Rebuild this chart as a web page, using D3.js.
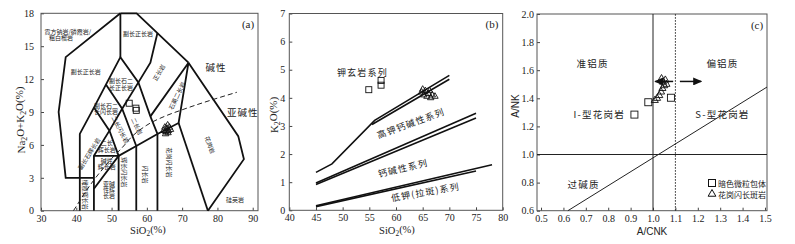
<!DOCTYPE html>
<html>
<head>
<meta charset="utf-8">
<script src="https://cdn.jsdelivr.net/npm/d3@7"></script>
<style>
  body { margin: 0; background: #fff; }
  svg text { font-family: "Liberation Serif", "Times New Roman", serif; fill: #222; }
  svg text.cn { font-family: "Noto Sans CJK SC", sans-serif; }
  svg text.sans { font-family: "Liberation Sans", Arial, sans-serif; }
</style>
</head>
<body>
<div id="chart"></div>
<script>
// ---------- (a) TAS (Middlemost 1994) ----------
const tasXTicks = [30, 40, 50, 60, 70, 80, 90];
const tasYTicks = [0, 3, 6, 9, 12, 15, 18];
const tasLines = [
  [[52.5, 18], [37, 14], [35, 9], [37, 3], [45, 3]],
  [[52.5, 18], [57.1, 18], [63, 16.2], [71.8, 13.5]],
  [[52.5, 18], [52.5, 14]],
  [[41, 0], [41, 7], [45, 9.4], [48.4, 11.5], [52.5, 14], [57.6, 11.7], [61, 8.6], [63, 7]],
  [[45, 0], [45, 5], [49.4, 7.3], [53, 9.3], [57.6, 11.7], [61, 13.5], [63, 16.2]],
  [[52, 5], [57, 5.9], [63, 7], [69, 8], [71.8, 13.5], [61, 8.6]],
  [[45, 2], [52, 5], [45, 5]],
  [[52, 0], [52, 5]],
  [[57, 0], [57, 5.9]],
  [[63, 0], [63, 7]],
  [[45, 9.4], [49.4, 7.3], [52, 5]],
  [[48.4, 11.5], [53, 9.3], [57, 5.9]],
  [[69, 8], [77.3, 0]],
  [[77.3, 0], [87.5, 4.7], [85.9, 6.8], [71.8, 13.5]]
];
const tasAlkalineLine = [[39.2, 0], [40, 0.4], [43.2, 2], [45, 2.8], [48, 4], [50, 4.75], [53.7, 6],
  [55, 6.5], [60, 7.8], [65, 8.6], [70, 9.2], [85.5, 10.8]];
const tasSquares = [[55.0, 9.8], [56.9, 9.35], [57.0, 9.15]];
const tasTriangles = [[64.8, 7.3], [65.1, 7.6], [65.4, 7.2], [65.7, 7.5], [65.9, 7.8], [66.1, 7.3],
  [66.4, 7.6], [66.7, 7.4], [65.3, 7.0], [66.0, 7.1]];
const tasFieldLabels = [
  ['霓方钠岩/磷霞岩/', 37.6, 16.3, 0],
  ['粗白榴岩', 35.7, 15.75, 0],
  ['副长正长岩', 42.7, 12.7, 0],
  ['副长正长岩', 57.5, 16.2, 0],
  ['副长石二', 52.7, 11.85, 0],
  ['长正长岩', 52.7, 11.25, 0],
  ['副长石二', 48.4, 9.6, 0],
  ['长闪长岩', 48.4, 9.05, 0],
  ['副长石辉长岩', 43.6, 5.2, -58],
  ['橄榄辉长岩', 42.7, 1.45, 90],
  ['二长', 48.6, 6.2, 0],
  ['辉长岩', 48.6, 5.6, 0],
  ['碱性', 48.6, 4.55, 0],
  ['辉长岩', 48.6, 4.0, 0],
  ['亚碱', 49.3, 2.45, 0],
  ['性辉', 49.3, 1.9, 0],
  ['长岩', 49.3, 1.35, 0],
  ['辉长闪长岩', 53.8, 3.5, 90],
  ['闪长岩', 59.7, 3.3, 90],
  ['花岗闪长岩', 66.5, 4.4, 90],
  ['花岗岩', 77.9, 6.0, 70],
  ['硅英岩', 85, 1.0, 0],
  ['正长岩', 63.4, 12.6, -60],
  ['石英二长岩', 68.5, 10.5, -65],
  ['二长岩', 57.2, 7.7, 65],
  ['二长闪长岩', 52.5, 7.4, 62]
];
const tasSeriesLabels = [['碱性', 79.6, 13.1], ['亚碱性', 87.2, 9.0]];

// ---------- (b) K2O–SiO2 ----------
const kXTicks = [40, 45, 50, 55, 60, 65, 70, 75, 80];
const kYTicks = [0, 1, 2, 3, 4, 5, 6, 7];
const kLines = [
  [[45, 1.35], [48, 1.65], [56, 3.2], [70, 4.8]],
  [[55.5, 3.05], [70, 4.66]],
  [[45, 0.97], [75, 3.45]],
  [[45, 0.92], [75, 3.28]],
  [[45, 0.16], [78, 1.62]],
  [[45, 0.13], [75, 1.4]]
];
const kSquares = [[54.9, 4.29], [57.2, 4.62], [57.2, 4.45]];
const kTriangles = [[64.8, 4.2], [65.2, 4.1], [65.5, 4.25], [65.8, 4.05], [66.1, 4.15], [66.5, 4.0],
  [66.8, 4.1], [65.0, 4.3], [66.3, 4.25], [67.3, 4.05]];
const kSeriesLabels = [
  ['钾玄岩系列', 53.7, 4.9, 0],
  ['高钾钙碱性系列', 62.8, 3.1, -20],
  ['钙碱性系列', 61.3, 1.5, -13],
  ['低钾(拉斑)系列', 65.5, 0.65, -10]
];

// ---------- (c) A/NK–A/CNK ----------
const acXTicks = [0.5, 0.6, 0.7, 0.8, 0.9, 1.0, 1.1, 1.2, 1.3, 1.4, 1.5];
const acYTicks = [0.6, 0.8, 1.0, 1.2, 1.4, 1.6, 1.8, 2.0];
const acSolidLines = [
  [[1.0, 0.6], [1.0, 2.0]],
  [[0.482, 1.0], [1.509, 1.0]],
  [[0.62, 0.6], [1.509, 1.48]]
];
const acDottedLine = [[1.1, 0.6], [1.1, 2.0]];
const acArrows = [[[1.12, 1.52], [1.215, 1.52]], [[1.09, 1.52], [1.01, 1.52]]];
const acSquares = [[0.917, 1.284], [0.979, 1.372], [1.08, 1.404]];
const acTriangles = [[1.008, 1.385], [1.018, 1.40], [1.028, 1.42], [1.036, 1.445], [1.042, 1.47],
  [1.05, 1.49], [1.045, 1.515], [1.055, 1.53], [1.038, 1.54], [1.06, 1.50]];
const acFieldLabels = [
  ['准铝质', 0.73, 1.65], ['偏铝质', 1.31, 1.65],
  ['I-型花岗岩', 0.76, 1.29], ['S-型花岗岩', 1.31, 1.29],
  ['过碱质', 0.69, 0.79]
];
const legendItems = ['暗色微粒包体', '花岗闪长斑岩'];

// ---------- drawing ----------
const svg = d3.select('#chart').append('svg').attr('width', 795).attr('height', 244);

svg.append('defs').append('marker')
  .attr('id', 'arrow')
  .attr('markerUnits', 'userSpaceOnUse')
  .attr('markerWidth', 9).attr('markerHeight', 8)
  .attr('refX', 8).attr('refY', 4)
  .attr('orient', 'auto')
  .append('path').attr('d', 'M0,0L9,4L0,8Z').attr('fill', '#111');

function panel(p) {
  const x = d3.scaleLinear().domain(p.xDomain).range(p.xRange);
  const y = d3.scaleLinear().domain(p.yDomain).range(p.yRange);
  const g = svg.append('g');
  const line = d3.line().x((d) => x(d[0])).y((d) => y(d[1]));

  g.append('g')
    .attr('transform', `translate(0,${p.yRange[0]})`)
    .call(d3.axisBottom(x).tickValues(p.xTicks).tickSize(-3).tickPadding(4).tickFormat(p.xFormat));
  g.append('g')
    .attr('transform', `translate(${p.xRange[0]},0)`)
    .call(d3.axisLeft(y).tickValues(p.yTicks).tickSize(-3).tickPadding(p.yPad).tickFormat(p.yFormat));
  g.selectAll('.domain').remove();
  g.selectAll('.tick line').attr('stroke', '#444');
  g.selectAll('.tick text')
    .attr('font-size', 10)
    .style('font-family', '"Liberation Serif", serif')
    .attr('fill', '#222');

  g.append('rect')
    .attr('x', p.xRange[0]).attr('y', p.yRange[1])
    .attr('width', p.xRange[1] - p.xRange[0])
    .attr('height', p.yRange[0] - p.yRange[1])
    .attr('fill', 'none').attr('stroke', '#555').attr('stroke-width', 1);

  return { g, x, y, line };
}

function squares(P, data, size) {
  P.g.append('g').selectAll('rect').data(data).enter().append('rect')
    .attr('x', (d) => P.x(d[0]) - size / 2)
    .attr('y', (d) => P.y(d[1]) - size / 2)
    .attr('width', size).attr('height', size)
    .attr('fill', 'none').attr('stroke', '#111').attr('stroke-width', 0.9);
}

function triangles(P, data, size) {
  const sym = d3.symbol().type(d3.symbolTriangle).size(size);
  P.g.append('g').selectAll('path').data(data).enter().append('path')
    .attr('d', sym)
    .attr('transform', (d) => `translate(${P.x(d[0])},${P.y(d[1])})`)
    .attr('fill', 'none').attr('stroke', '#111').attr('stroke-width', 0.9);
}

function cnText(P, data, size, spacing) {
  P.g.append('g').selectAll('text').data(data).enter().append('text')
    .attr('class', 'cn')
    .attr('font-size', size)
    .attr('letter-spacing', spacing)
    .attr('text-anchor', 'middle')
    .attr('dominant-baseline', 'central')
    .attr('transform', (d) => `translate(${P.x(d[1])},${P.y(d[2])}) rotate(${d[3] || 0})`)
    .text((d) => d[0]);
}

function subTitle(sel, parts) {
  parts.forEach(([t, sub]) => {
    const s = sel.append('tspan').text(t);
    if (sub) s.attr('font-size', '0.7em').attr('dy', '0.25em');
    else s.attr('dy', sel.selectAll('tspan').size() > 1 ? '-0.25em' : 0);
  });
}

// ----- panel (a)
const A = panel({
  xDomain: [30, 91.5], xRange: [41, 258],
  yDomain: [0, 18], yRange: [210.7, 13.3],
  xTicks: tasXTicks, yTicks: tasYTicks, yPad: 7,
  xFormat: d3.format('d'), yFormat: d3.format('d')
});
A.g.append('g').selectAll('path').data(tasLines).enter().append('path')
  .attr('d', A.line).attr('fill', 'none').attr('stroke', '#111')
  .attr('stroke-width', 1.8).attr('stroke-linejoin', 'miter');
A.g.append('path').datum(tasAlkalineLine)
  .attr('d', A.line.curve(d3.curveMonotoneX)).attr('fill', 'none').attr('stroke', '#222')
  .attr('stroke-width', 1).attr('stroke-dasharray', '5,3');
A.line.curve(d3.curveLinear);
cnText(A, tasFieldLabels, 6, 0);
cnText(A, tasSeriesLabels.map((d) => [d[0], d[1], d[2], 0]), 9.5, 1);
squares(A, tasSquares, 6);
triangles(A, tasTriangles, 18);

svg.append('text').attr('x', 248).attr('y', 28).attr('text-anchor', 'middle').attr('font-size', 11).text('(a)');
subTitle(svg.append('text').attr('text-anchor', 'middle').attr('font-size', 11)
  .attr('transform', 'translate(25,120) rotate(-90)'),
  [['Na'], ['2', true], ['O+K'], ['2', true], ['O(%)']]);
subTitle(svg.append('text').attr('x', 148).attr('y', 234).attr('text-anchor', 'middle').attr('font-size', 10.5),
  [['SiO'], ['2', true], ['(%)']]);

// ----- panel (b)
const B = panel({
  xDomain: [40, 80], xRange: [289.3, 502.7],
  yDomain: [0, 7], yRange: [210.3, 13.5],
  xTicks: kXTicks, yTicks: kYTicks, yPad: 4,
  xFormat: d3.format('d'), yFormat: d3.format('d')
});
B.g.append('g').selectAll('path').data(kLines).enter().append('path')
  .attr('d', B.line).attr('fill', 'none').attr('stroke', '#111').attr('stroke-width', 1.6);
cnText(B, kSeriesLabels, 9, 1.2);
squares(B, kSquares, 6);
triangles(B, kTriangles, 18);

svg.append('text').attr('x', 492).attr('y', 28).attr('text-anchor', 'middle').attr('font-size', 11).text('(b)');
subTitle(svg.append('text').attr('text-anchor', 'middle').attr('font-size', 11)
  .attr('transform', 'translate(278,115) rotate(-90)'),
  [['K'], ['2', true], ['O(%)']]);
subTitle(svg.append('text').attr('x', 397).attr('y', 234).attr('text-anchor', 'middle').attr('font-size', 10.5),
  [['SiO'], ['2', true], ['(%)']]);

// ----- panel (c)
const C = panel({
  xDomain: [0.482, 1.509], xRange: [537, 767],
  yDomain: [0.6, 2.0], yRange: [210.7, 14],
  xTicks: acXTicks, yTicks: acYTicks, yPad: 3,
  xFormat: d3.format('.1f'), yFormat: d3.format('.1f')
});
C.g.append('g').selectAll('path').data(acSolidLines).enter().append('path')
  .attr('d', C.line).attr('fill', 'none').attr('stroke', '#222').attr('stroke-width', 1);
C.g.append('path').datum(acDottedLine)
  .attr('d', C.line).attr('fill', 'none').attr('stroke', '#222')
  .attr('stroke-width', 1).attr('stroke-dasharray', '1.5,1.5');
C.g.append('g').selectAll('path').data(acArrows).enter().append('path')
  .attr('d', C.line).attr('fill', 'none').attr('stroke', '#111').attr('stroke-width', 1.5)
  .attr('marker-end', 'url(#arrow)');
C.g.append('g').selectAll('text').data(acFieldLabels).enter().append('text')
  .attr('class', (d) => 'cn')
  .attr('font-size', 9.5).attr('letter-spacing', 1.2)
  .attr('text-anchor', 'middle').attr('dominant-baseline', 'central')
  .attr('x', (d) => C.x(d[1])).attr('y', (d) => C.y(d[2]))
  .text((d) => d[0]);
squares(C, acSquares, 7);
triangles(C, acTriangles, 22);

// legend
const lg = svg.append('g').attr('transform', 'translate(712,183)');
legendItems.forEach((t, i) => {
  const row = lg.append('g').attr('transform', `translate(0,${i * 11})`);
  if (i === 0) row.append('rect').attr('x', -3.5).attr('y', -3.5).attr('width', 7).attr('height', 7)
    .attr('fill', 'none').attr('stroke', '#111');
  else row.append('path').attr('d', d3.symbol().type(d3.symbolTriangle).size(26)())
    .attr('fill', 'none').attr('stroke', '#111');
  row.append('text').attr('class', 'cn').attr('x', 6).attr('dominant-baseline', 'central')
    .attr('font-size', 8).text(t);
});

svg.append('text').attr('x', 757).attr('y', 29).attr('text-anchor', 'middle').attr('font-size', 11).text('(c)');
svg.append('text').attr('class', 'sans').attr('text-anchor', 'middle').attr('font-size', 10)
  .attr('transform', 'translate(519,106) rotate(-90)').text('A/NK');
svg.append('text').attr('class', 'sans').attr('x', 652).attr('y', 235)
  .attr('text-anchor', 'middle').attr('font-size', 10).text('A/CNK');
</script>
</body>
</html>
